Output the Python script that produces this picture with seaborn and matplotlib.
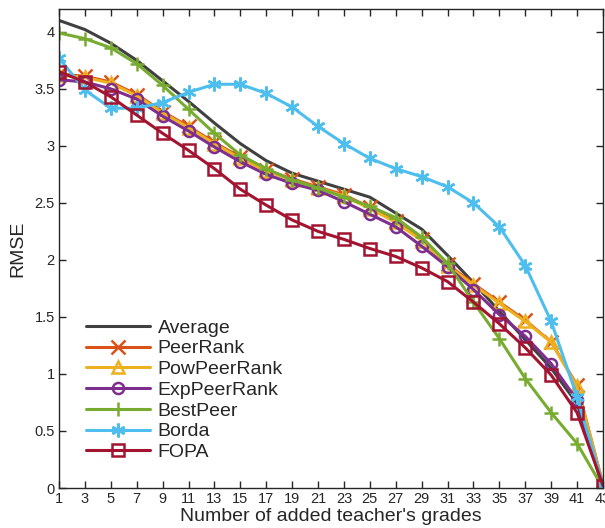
import matplotlib
matplotlib.use("Agg")
import matplotlib.pyplot as plt
import numpy as np
import pandas as pd
import seaborn as sns

# Number of added teacher's grades
x_vals = [1, 3, 5, 7, 9, 11, 13, 15, 17, 19, 21, 23, 25, 27, 29, 31, 33, 35, 37, 39, 41, 43]

average = [4.10, 4.02, 3.90, 3.75, 3.57, 3.39, 3.20, 3.02, 2.87, 2.76, 2.69, 2.62, 2.55, 2.41, 2.27, 2.04, 1.80, 1.55, 1.30, 1.05, 0.74, 0.0]
peer_rank = [3.63, 3.61, 3.56, 3.45, 3.30, 3.17, 3.03, 2.90, 2.79, 2.71, 2.64, 2.57, 2.46, 2.34, 2.18, 1.96, 1.79, 1.63, 1.47, 1.28, 0.90, 0.03]
pow_peer_rank = [3.62, 3.60, 3.55, 3.44, 3.29, 3.16, 3.02, 2.89, 2.78, 2.70, 2.63, 2.56, 2.45, 2.33, 2.17, 1.95, 1.78, 1.62, 1.46, 1.28, 0.89, 0.03]
exp_peer_rank = [3.58, 3.56, 3.50, 3.41, 3.26, 3.13, 2.99, 2.86, 2.75, 2.67, 2.61, 2.51, 2.40, 2.29, 2.12, 1.94, 1.74, 1.52, 1.33, 1.09, 0.77, 0.02]
best_peer = [3.99, 3.94, 3.86, 3.72, 3.53, 3.32, 3.11, 2.92, 2.80, 2.70, 2.63, 2.55, 2.47, 2.37, 2.20, 1.97, 1.63, 1.31, 0.96, 0.66, 0.39, 0.0]
borda = [3.77, 3.49, 3.33, 3.33, 3.38, 3.47, 3.54, 3.54, 3.46, 3.34, 3.17, 3.02, 2.89, 2.80, 2.73, 2.64, 2.50, 2.29, 1.95, 1.46, 0.80, 0.02]
fopa = [3.65, 3.56, 3.43, 3.27, 3.11, 2.96, 2.80, 2.62, 2.48, 2.35, 2.25, 2.18, 2.10, 2.03, 1.93, 1.81, 1.63, 1.44, 1.23, 0.99, 0.66, 0.02]

x_ticks = list(range(1, 44, 2))
y_ticks = [0, 0.5, 1, 1.5, 2, 2.5, 3, 3.5, 4]
y_tick_labels = ["0", "0.5", "1", "1.5", "2", "2.5", "3", "3.5", "4"]

series = [
    ("Average", average, "#404040", None),
    ("PeerRank", peer_rank, "#D95319", "x"),
    ("PowPeerRank", pow_peer_rank, "#EDB120", "^"),
    ("ExpPeerRank", exp_peer_rank, "#7E2F8E", "o"),
    ("BestPeer", best_peer, "#77AC30", "+"),
    ("Borda", borda, "#4DBEEE", (6, 2, 0)),
    ("FOPA", fopa, "#A2142F", "s"),
]

sns.set_style("ticks")
plt.rcParams["font.family"] = ["Liberation Sans", "DejaVu Sans"]

fig = plt.figure(figsize=(6.05, 5.28), dpi=100)
ax = fig.add_axes([59 / 605, 40 / 528, 544 / 605, 479 / 528])

for name, vals, color, marker in series:
    df = pd.DataFrame({"x": x_vals, "y": vals})
    kw = dict(color=color, linewidth=2.2, label=name, ax=ax)
    if marker is not None:
        filled = marker in ("x", "+") or isinstance(marker, tuple)
        kw.update(marker=marker, markersize=10 if marker in ("+", "x") or isinstance(marker, tuple) else 8,
                  markerfacecolor="none" if not filled else color,
                  markeredgecolor=color, markeredgewidth=1.8)
    sns.lineplot(data=df, x="x", y="y", **kw)

ax.set_xlim(1, 43)
ax.set_ylim(0, 4.2)
ax.set_xticks(x_ticks)
ax.set_xticklabels([str(t) for t in x_ticks])
ax.set_yticks(y_ticks)
ax.set_yticklabels(y_tick_labels)
ax.tick_params(direction="in", top=True, right=True, length=5, width=1.0,
               labelsize=10.5, colors="#262626", pad=3)
for s in ax.spines.values():
    s.set_visible(True)
    s.set_color("#262626")
    s.set_linewidth(1.0)

ax.set_xlabel("Number of added teacher's grades", fontsize=14, color="#262626", labelpad=1)
ax.set_ylabel("RMSE", fontsize=14, color="#262626", labelpad=6)

leg = ax.legend(loc="lower left", bbox_to_anchor=(0.035, 0.04), frameon=False,
                fontsize=14, handlelength=3.3, handletextpad=0.4, labelspacing=0.16,
                borderaxespad=0.0)

fig.savefig("out.png", dpi=100)
